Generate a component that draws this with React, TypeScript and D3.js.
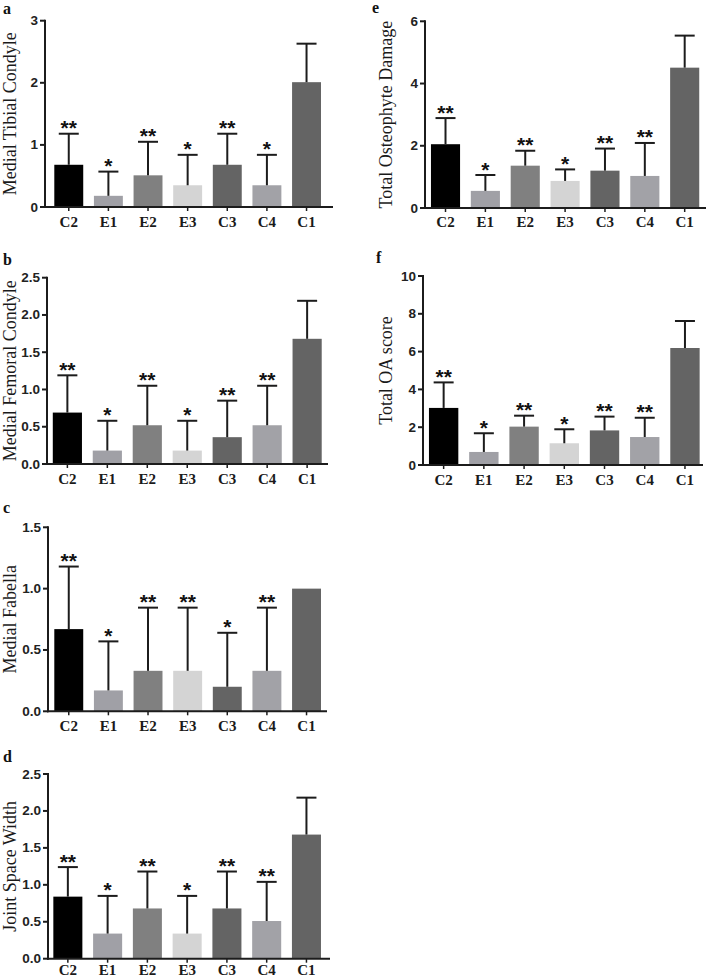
import React from "react";
import * as d3 from "d3";

const categories = ["C2", "E1", "E2", "E3", "C3", "C4", "C1"];
const barColors = ["#000000", "#a0a0a6", "#808080", "#d4d4d4", "#646464", "#a2a2a7", "#646464"];

// Panel a: Medial Tibial Condyle
const meanA = [0.68, 0.18, 0.51, 0.35, 0.68, 0.35, 2.01];
const sdA = [0.5, 0.39, 0.54, 0.49, 0.5, 0.49, 0.62];
const starsA = ["**", "*", "**", "*", "**", "*", ""];
const ticksA = [0, 1, 2, 3];

// Panel b: Medial Femoral Condyle
const meanB = [0.69, 0.18, 0.52, 0.18, 0.36, 0.52, 1.68];
const sdB = [0.5, 0.4, 0.53, 0.4, 0.49, 0.53, 0.51];
const starsB = ["**", "*", "**", "*", "**", "**", ""];
const ticksB = [0, 0.5, 1.0, 1.5, 2.0, 2.5];

// Panel c: Medial Fabella
const meanC = [0.67, 0.17, 0.33, 0.33, 0.2, 0.33, 1.0];
const sdC = [0.51, 0.4, 0.515, 0.515, 0.44, 0.515, 0];
const starsC = ["**", "*", "**", "**", "*", "**", ""];
const ticksC = [0, 0.5, 1.0, 1.5];

// Panel d: Joint Space Width
const meanD = [0.84, 0.34, 0.68, 0.34, 0.68, 0.51, 1.68];
const sdD = [0.4, 0.51, 0.5, 0.51, 0.5, 0.53, 0.5];
const starsD = ["**", "*", "**", "*", "**", "**", ""];
const ticksD = [0, 0.5, 1.0, 1.5, 2.0, 2.5];

// Panel e: Total Osteophyte Damage
const meanE = [2.05, 0.55, 1.36, 0.87, 1.2, 1.03, 4.51];
const sdE = [0.84, 0.51, 0.48, 0.37, 0.71, 1.06, 1.03];
const starsE = ["**", "*", "**", "*", "**", "**", ""];
const ticksE = [0, 2, 4, 6];

// Panel f: Total OA score
const meanF = [3.02, 0.69, 2.03, 1.15, 1.83, 1.48, 6.19];
const sdF = [1.35, 0.99, 0.58, 0.74, 0.73, 1.02, 1.43];
const starsF = ["**", "*", "**", "*", "**", "**", ""];
const ticksF = [0, 2, 4, 6, 8, 10];

type PanelProps = {
  letter: string;
  title: string;
  mean: number[];
  sd: number[];
  stars: string[];
  ticks: number[];
  decimals: number;
  axisX: number;
  axisEnd: number;
  yTop: number;
  y0: number;
  r0: number;
  r1: number;
  titleX: number;
  letterX: number;
  letterY: number;
  labelDy: number;
};

const INK = "#1c1c1c";

function Panel(p: PanelProps) {
  const x = d3.scaleBand<string>().domain(categories).range([p.r0, p.r1]).padding(0.27);
  const maxT = p.ticks[p.ticks.length - 1];
  const y = d3.scaleLinear().domain([0, maxT]).range([p.y0, p.yTop]);
  const fmt = d3.format(p.decimals ? ".1f" : "d");
  const bw = x.bandwidth();
  const capW = 20;
  return (
    <g>
      <text x={p.letterX} y={p.letterY} fontFamily="Liberation Serif" fontWeight="bold" fontSize={16} fill="#111">
        {p.letter}
      </text>
      <text
        transform={`translate(${p.titleX},${(p.y0 + p.yTop) / 2}) rotate(-90)`}
        textAnchor="middle"
        fontFamily="Liberation Serif"
        fontSize={18}
        fill="#1a1a1a"
      >
        {p.title}
      </text>
      {categories.map((c, i) => {
        const cx = (x(c) as number) + bw / 2;
        const top = p.mean[i] + p.sd[i];
        return (
          <g key={c}>
            <rect x={x(c)} y={y(p.mean[i])} width={bw} height={p.y0 - y(p.mean[i])} fill={barColors[i]} />
            {p.sd[i] > 0 && (
              <g stroke={INK} strokeWidth={2}>
                <line x1={cx} x2={cx} y1={y(p.mean[i])} y2={y(top)} />
                <line x1={cx - capW / 2} x2={cx + capW / 2} y1={y(top)} y2={y(top)} />
              </g>
            )}
            {p.stars[i] && (
              <text
                x={cx}
                y={y(top) + 1.5}
                textAnchor="middle"
                fontFamily="Liberation Sans"
                fontWeight="bold"
                fontSize={21}
                fill="#111"
              >
                {p.stars[i]}
              </text>
            )}
            <line x1={cx} x2={cx} y1={p.y0} y2={p.y0 + 4} stroke={INK} strokeWidth={1.5} />
            <text
              x={cx}
              y={p.y0 + p.labelDy}
              textAnchor="middle"
              fontFamily="Liberation Serif"
              fontWeight="bold"
              fontSize={15}
              fill="#1a1a1a"
            >
              {c}
            </text>
          </g>
        );
      })}
      <line x1={p.axisX} x2={p.axisX} y1={p.yTop - 1} y2={p.y0 + 1} stroke={INK} strokeWidth={2} />
      <line x1={p.axisX - 1} x2={p.axisEnd} y1={p.y0} y2={p.y0} stroke={INK} strokeWidth={2} />
      {p.ticks.map((t) => (
        <g key={t}>
          <line x1={p.axisX - 5} x2={p.axisX} y1={y(t)} y2={y(t)} stroke={INK} strokeWidth={2} />
          <text
            x={p.axisX - 7}
            y={y(t) + 4.5}
            textAnchor="end"
            fontFamily="Liberation Sans"
            fontWeight="bold"
            fontSize={13.5}
            fill="#222"
          >
            {fmt(t)}
          </text>
        </g>
      ))}
    </g>
  );
}

export default function App() {
  return (
    <svg
      width={709}
      height={979}
      style={{ position: "absolute", left: 0, top: 0, background: "#fff" }}
      xmlns="http://www.w3.org/2000/svg"
    >
      <rect width={709} height={979} fill="#fff" />
      <Panel letter="a" title="Medial Tibial Condyle" mean={meanA} sd={sdA} stars={starsA} ticks={ticksA} decimals={0}
        axisX={45} axisEnd={333} yTop={20.7} y0={207} r0={43.6} r1={331.7} titleX={16} letterX={3} letterY={14} labelDy={20} />
      <Panel letter="b" title="Medial Femoral Condyle" mean={meanB} sd={sdB} stars={starsB} ticks={ticksB} decimals={1}
        axisX={47} axisEnd={328} yTop={277.7} y0={464} r0={42} r1={332.5} titleX={16} letterX={3} letterY={265} labelDy={20} />
      <Panel letter="c" title="Medial Fabella" mean={meanC} sd={sdC} stars={starsC} ticks={ticksC} decimals={1}
        axisX={48} axisEnd={327} yTop={527.3} y0={711.3} r0={43.6} r1={331.7} titleX={16} letterX={3} letterY={513} labelDy={20} />
      <Panel letter="d" title="Joint Space Width" mean={meanD} sd={sdD} stars={starsD} ticks={ticksD} decimals={1}
        axisX={48} axisEnd={330} yTop={774} y0={958.7} r0={42.6} r1={331.7} titleX={16} letterX={3} letterY={762} labelDy={16.5} />
      <Panel letter="e" title="Total Osteophyte Damage" mean={meanE} sd={sdE} stars={starsE} ticks={ticksE} decimals={0}
        axisX={425} axisEnd={706} yTop={21.3} y0={208} r0={420.2} r1={710} titleX={392} letterX={372} letterY={13} labelDy={19} />
      <Panel letter="f" title="Total OA score" mean={meanF} sd={sdF} stars={starsF} ticks={ticksF} decimals={0}
        axisX={423} axisEnd={703} yTop={276} y0={465} r0={418.1} r1={710.5} titleX={392} letterX={376} letterY={263} labelDy={20} />
    </svg>
  );
}
